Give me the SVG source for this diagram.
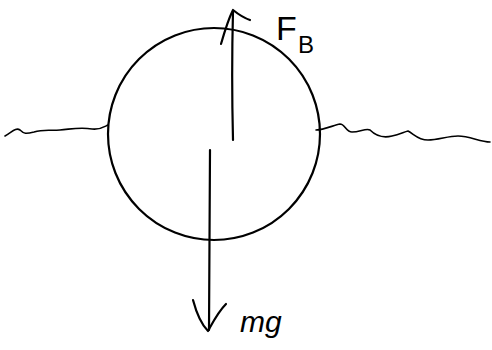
<svg xmlns="http://www.w3.org/2000/svg" width="492" height="350" viewBox="0 0 492 350">
<style>
.s{fill:none;stroke:#000;stroke-width:2.2;stroke-linecap:round;stroke-linejoin:round}
.w{fill:none;stroke:#000;stroke-width:1.6;stroke-linecap:round}
.t{font-family:"Liberation Sans",sans-serif;fill:#000}
</style>
<rect width="492" height="350" fill="#fff"/>
<g id="water">
<path class="w" d="M5,136 C12,132 16,127 20,130 C24,134 26,134 34,132 C44,129 50,131 60,130 C72,129 80,127 92,129 C100,130 104,127 108,125"/>
<path class="w" d="M316,130 C324,130 334,125 340,124 C345,124 346,132 352,132 C360,132 366,128 370,130 C376,136 384,138 392,136 C400,134 404,132 408,131 C414,134 418,140 428,140 C438,140 448,136 458,136 C470,136 480,142 490,142"/>
</g>
<g id="ball">
<ellipse class="s" cx="214" cy="134" rx="106" ry="106"/>
</g>
<g id="connectors">
<path class="s" d="M233,140 C232,100 232,50 233,11"/>
<path class="s" d="M221,44 C225,30 229,18 233,10 C238,14 244,18 250,20"/>
<path class="s" d="M210,150 C210,210 209,270 209,330"/>
<path class="s" d="M193,300 C197,315 202,325 208,331 C213,322 218,312 226,304"/>
</g>
<g id="labels">
<text class="t" x="276" y="40" font-size="34">F</text>
<text class="t" x="298" y="53" font-size="24">B</text>
<text class="t" x="240" y="332" font-size="30" font-style="italic">mg</text>
</g>
</svg>
